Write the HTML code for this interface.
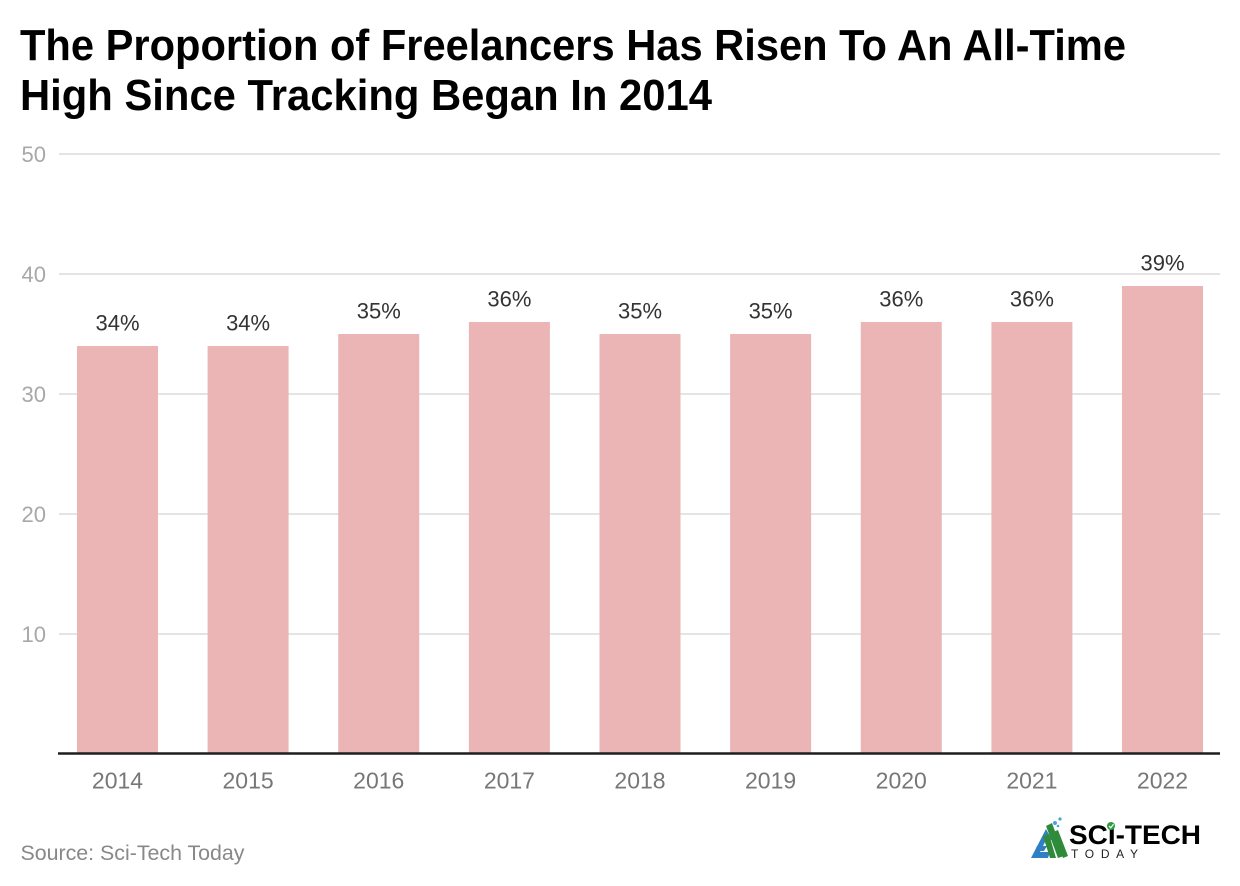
<!DOCTYPE html>
<html>
<head>
<meta charset="utf-8">
<style>
  html, body { margin: 0; padding: 0; background: #ffffff; }
  svg { display: block; }
  text { font-family: "Liberation Sans", "DejaVu Sans", sans-serif; }
</style>
</head>
<body>
<svg width="1240" height="886" viewBox="0 0 1240 886" xmlns="http://www.w3.org/2000/svg">
  <rect x="0" y="0" width="1240" height="886" fill="#ffffff"/>

  <!-- Title -->
  <text x="20" y="60" font-size="44" font-weight="bold" fill="#000" textLength="1106" lengthAdjust="spacingAndGlyphs">The Proportion of Freelancers Has Risen To An All-Time</text>
  <text x="20" y="110" font-size="44" font-weight="bold" fill="#000" textLength="692" lengthAdjust="spacingAndGlyphs">High Since Tracking Began In 2014</text>

  <!-- Gridlines -->
  <g stroke="#e4e4e4" stroke-width="2">
    <line x1="59" y1="154" x2="1220" y2="154"/>
    <line x1="59" y1="274" x2="1220" y2="274"/>
    <line x1="59" y1="394" x2="1220" y2="394"/>
    <line x1="59" y1="514" x2="1220" y2="514"/>
    <line x1="59" y1="634" x2="1220" y2="634"/>
  </g>

  <!-- Y tick labels -->
  <g font-size="22" fill="#a8a8a8" text-anchor="end">
    <text x="46" y="162">50</text>
    <text x="46" y="282">40</text>
    <text x="46" y="402">30</text>
    <text x="46" y="522">20</text>
    <text x="46" y="642">10</text>
  </g>

  <!-- Bars -->
  <g fill="#ebb4b5">
    <rect x="77" y="346" width="81" height="407"/>
    <rect x="207.6" y="346" width="81" height="407"/>
    <rect x="338.25" y="334" width="81" height="419"/>
    <rect x="468.9" y="322" width="81" height="431"/>
    <rect x="599.5" y="334" width="81" height="419"/>
    <rect x="730.1" y="334" width="81" height="419"/>
    <rect x="860.75" y="322" width="81" height="431"/>
    <rect x="991.4" y="322" width="81" height="431"/>
    <rect x="1122" y="286" width="81" height="467"/>
  </g>

  <!-- Value labels -->
  <g font-size="22" fill="#333333" text-anchor="middle">
    <text x="117.5" y="330.5">34%</text>
    <text x="248.1" y="330.5">34%</text>
    <text x="378.75" y="318.5">35%</text>
    <text x="509.4" y="306.5">36%</text>
    <text x="640" y="318.5">35%</text>
    <text x="770.6" y="318.5">35%</text>
    <text x="901.25" y="306.5">36%</text>
    <text x="1031.9" y="306.5">36%</text>
    <text x="1162.5" y="270.5">39%</text>
  </g>

  <!-- X axis line -->
  <line x1="58" y1="753.5" x2="1220" y2="753.5" stroke="#1e1e1e" stroke-width="2.5"/>

  <!-- X labels -->
  <g font-size="23" fill="#777777" text-anchor="middle">
    <text x="117.5" y="788.5">2014</text>
    <text x="248.1" y="788.5">2015</text>
    <text x="378.75" y="788.5">2016</text>
    <text x="509.4" y="788.5">2017</text>
    <text x="640" y="788.5">2018</text>
    <text x="770.6" y="788.5">2019</text>
    <text x="901.25" y="788.5">2020</text>
    <text x="1031.9" y="788.5">2021</text>
    <text x="1162.5" y="788.5">2022</text>
  </g>

  <!-- Source -->
  <text x="20.5" y="860" font-size="21" fill="#888888" textLength="224" lengthAdjust="spacingAndGlyphs">Source: Sci-Tech Today</text>

  <!-- Logo -->
  <g>
    <path d="M1031 858 L1046 829 L1052 840 L1046 840 L1040 852 L1050 852 L1048 858 Z" fill="#2f7fc4"/>
    <path d="M1037 846 L1047 846 L1044 851 L1035 851 Z" fill="#2f7fc4"/>
    <path d="M1046 826 L1052 823 L1064 856 L1058 858 Z" fill="#2e8b3a"/>
    <path d="M1053 832 L1058 830 L1068 856 L1063 858 Z" fill="#2e8b3a"/>
    <path d="M1043 836 L1049 834 L1056 858 L1050 858 Z" fill="#2e8b3a"/>
    <circle cx="1055" cy="823" r="2" fill="#4aa3df"/>
    <circle cx="1060" cy="819" r="1.6" fill="#4aa3df"/>
    <circle cx="1058" cy="826" r="1.3" fill="#4aa3df"/>
    <text x="1069" y="844" font-size="27" font-weight="bold" fill="#000" textLength="132" lengthAdjust="spacingAndGlyphs">SCI-TECH</text>
    <circle cx="1111" cy="826" r="4" fill="#2e9b3e"/>
    <path d="M1109 826 L1110.7 827.8 L1113.5 824.3" stroke="#fff" stroke-width="1.2" fill="none"/>
    <text x="1071" y="858" font-size="12" fill="#222" textLength="67" lengthAdjust="spacing">TODAY</text>
  </g>
</svg>
</body>
</html>
